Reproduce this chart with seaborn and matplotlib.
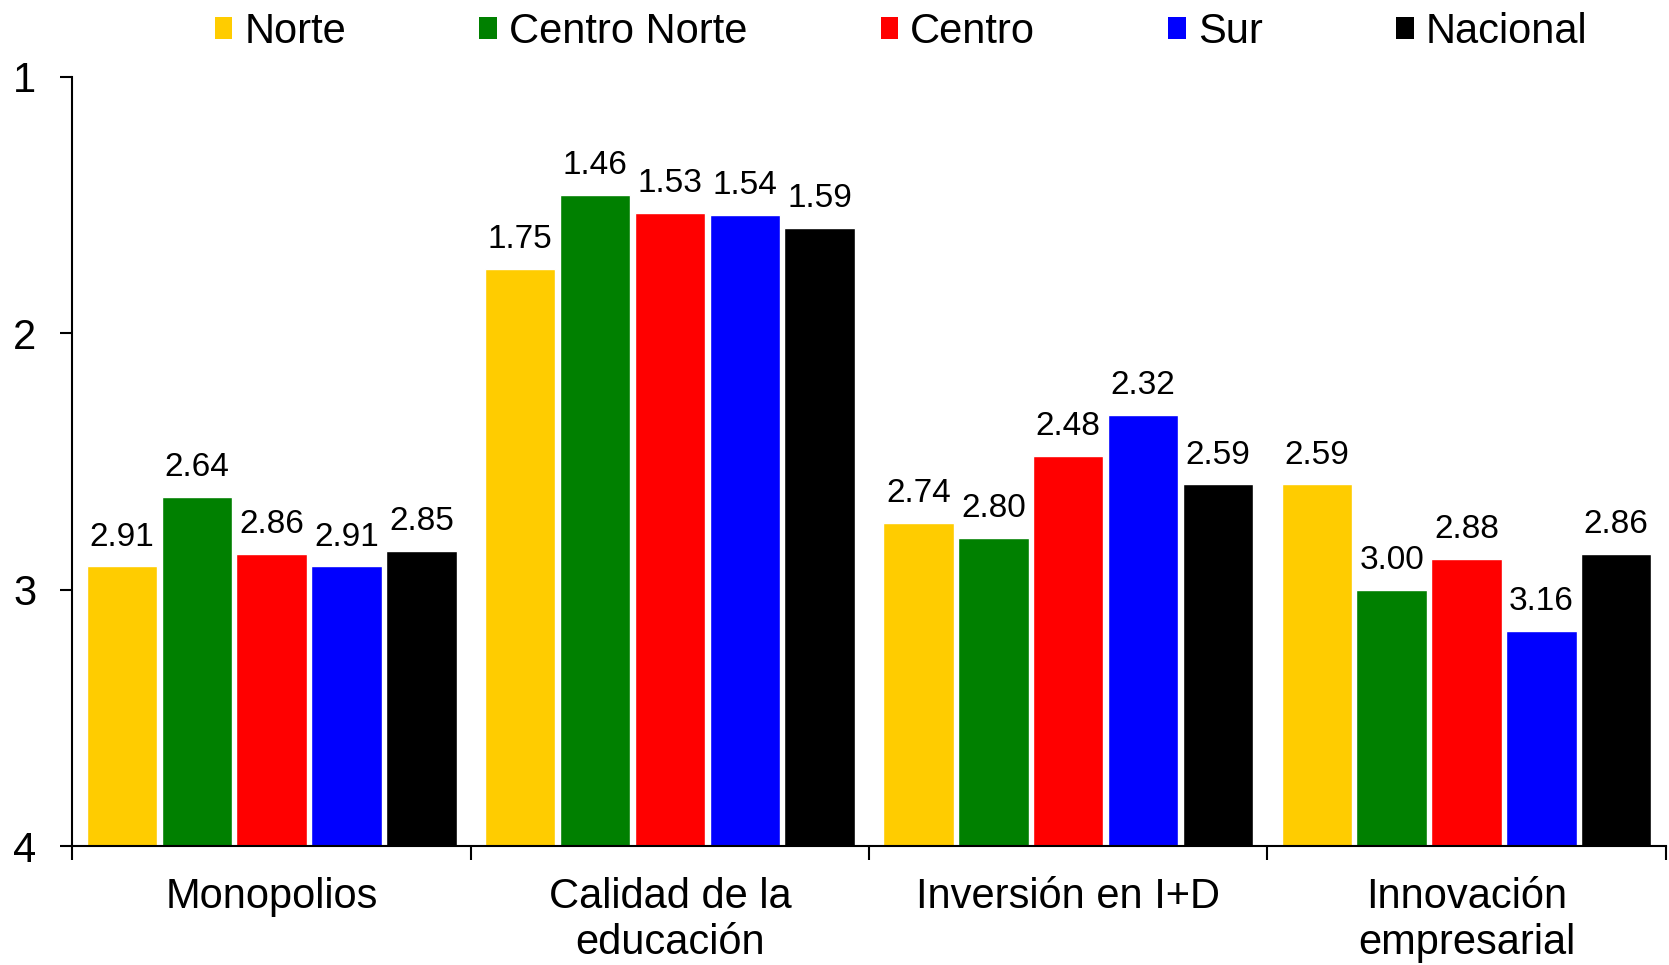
import matplotlib
matplotlib.use("Agg")
import matplotlib.pyplot as plt
import seaborn as sns
import pandas as pd
from matplotlib.patches import Patch

categories = ["Monopolios", "Calidad de la\neducación", "Inversión en I+D", "Innovación\nempresarial"]
regions = ["Norte", "Centro Norte", "Centro", "Sur", "Nacional"]
norte = [2.91, 1.75, 2.74, 2.59]
centro_norte = [2.64, 1.46, 2.80, 3.00]
centro = [2.86, 1.53, 2.48, 2.88]
sur = [2.91, 1.54, 2.32, 3.16]
nacional = [2.85, 1.59, 2.59, 2.86]
colors = ["#FFCC00", "#008000", "#FF0000", "#0000FF", "#000000"]
y_ticks = [1, 2, 3, 4]
base = 4

series = [norte, centro_norte, centro, sur, nacional]
rows = []
for reg, vals in zip(regions, series):
    for cat, v in zip(categories, vals):
        rows.append({"cat": cat, "region": reg, "value": v, "height": base - v})
df = pd.DataFrame(rows)

sns.set_style("white")
plt.rcParams["font.family"] = ["Liberation Sans", "DejaVu Sans"]
plt.rcParams["text.color"] = "black"
plt.rcParams["xtick.color"] = "black"
plt.rcParams["ytick.color"] = "black"
plt.rcParams["xtick.labelcolor"] = "black"
plt.rcParams["ytick.labelcolor"] = "black"

fig = plt.figure(figsize=(16.69, 9.65), dpi=100)
ax = fig.add_axes([0.0434, 0.1233, 0.9546, 0.7973])

sns.barplot(data=df, x="cat", y="height", hue="region", order=categories,
            hue_order=regions, palette=colors, width=0.94, gap=0.06,
            saturation=1, legend=False, ax=ax, errorbar=None)

for cont, vals in zip(ax.containers, series):
    for rect, v in zip(cont, vals):
        ax.annotate(f"{v:.2f}", (rect.get_x() + rect.get_width() / 2, rect.get_height()),
                    xytext=(0, 10), textcoords="offset points", ha="center", va="bottom",
                    fontsize=24, color="black")

ax.set_xlim(-0.5, len(categories) - 0.5)
ax.set_ylim(0, base - 1)
ax.set_yticks([base - t for t in y_ticks])
ax.set_yticklabels([str(t) for t in y_ticks])
ax.set_xticks([i - 0.5 for i in range(len(categories) + 1)])
ax.set_xticklabels([])
ax.set_xticks(range(len(categories)), minor=True)
ax.set_xticklabels(categories, minor=True)
ax.tick_params(axis="x", which="minor", length=0, pad=22, labelsize=30)
ax.tick_params(axis="x", which="major", length=10, width=1.5, direction="out", color="black")
ax.tick_params(axis="y", length=9, width=1.5, direction="out", color="black", pad=17, labelsize=30)
ax.tick_params(bottom=True, left=True, which="both")
ax.set_xlabel("")
ax.set_ylabel("")
for s in ["top", "right"]:
    ax.spines[s].set_visible(False)
for s in ["left", "bottom"]:
    ax.spines[s].set_color("black")
    ax.spines[s].set_linewidth(1.5)

handles = [Patch(facecolor=c, edgecolor="none", label=r) for c, r in zip(colors, regions)]
fig.legend(handles=handles, loc="center", bbox_to_anchor=(901 / 1669, 1 - 32 / 965),
           ncol=5, frameon=False, fontsize=30, handlelength=0.43, handleheight=0.43,
           handletextpad=0.28, columnspacing=3.2, borderpad=0)

fig.savefig("out.png", dpi=100)
